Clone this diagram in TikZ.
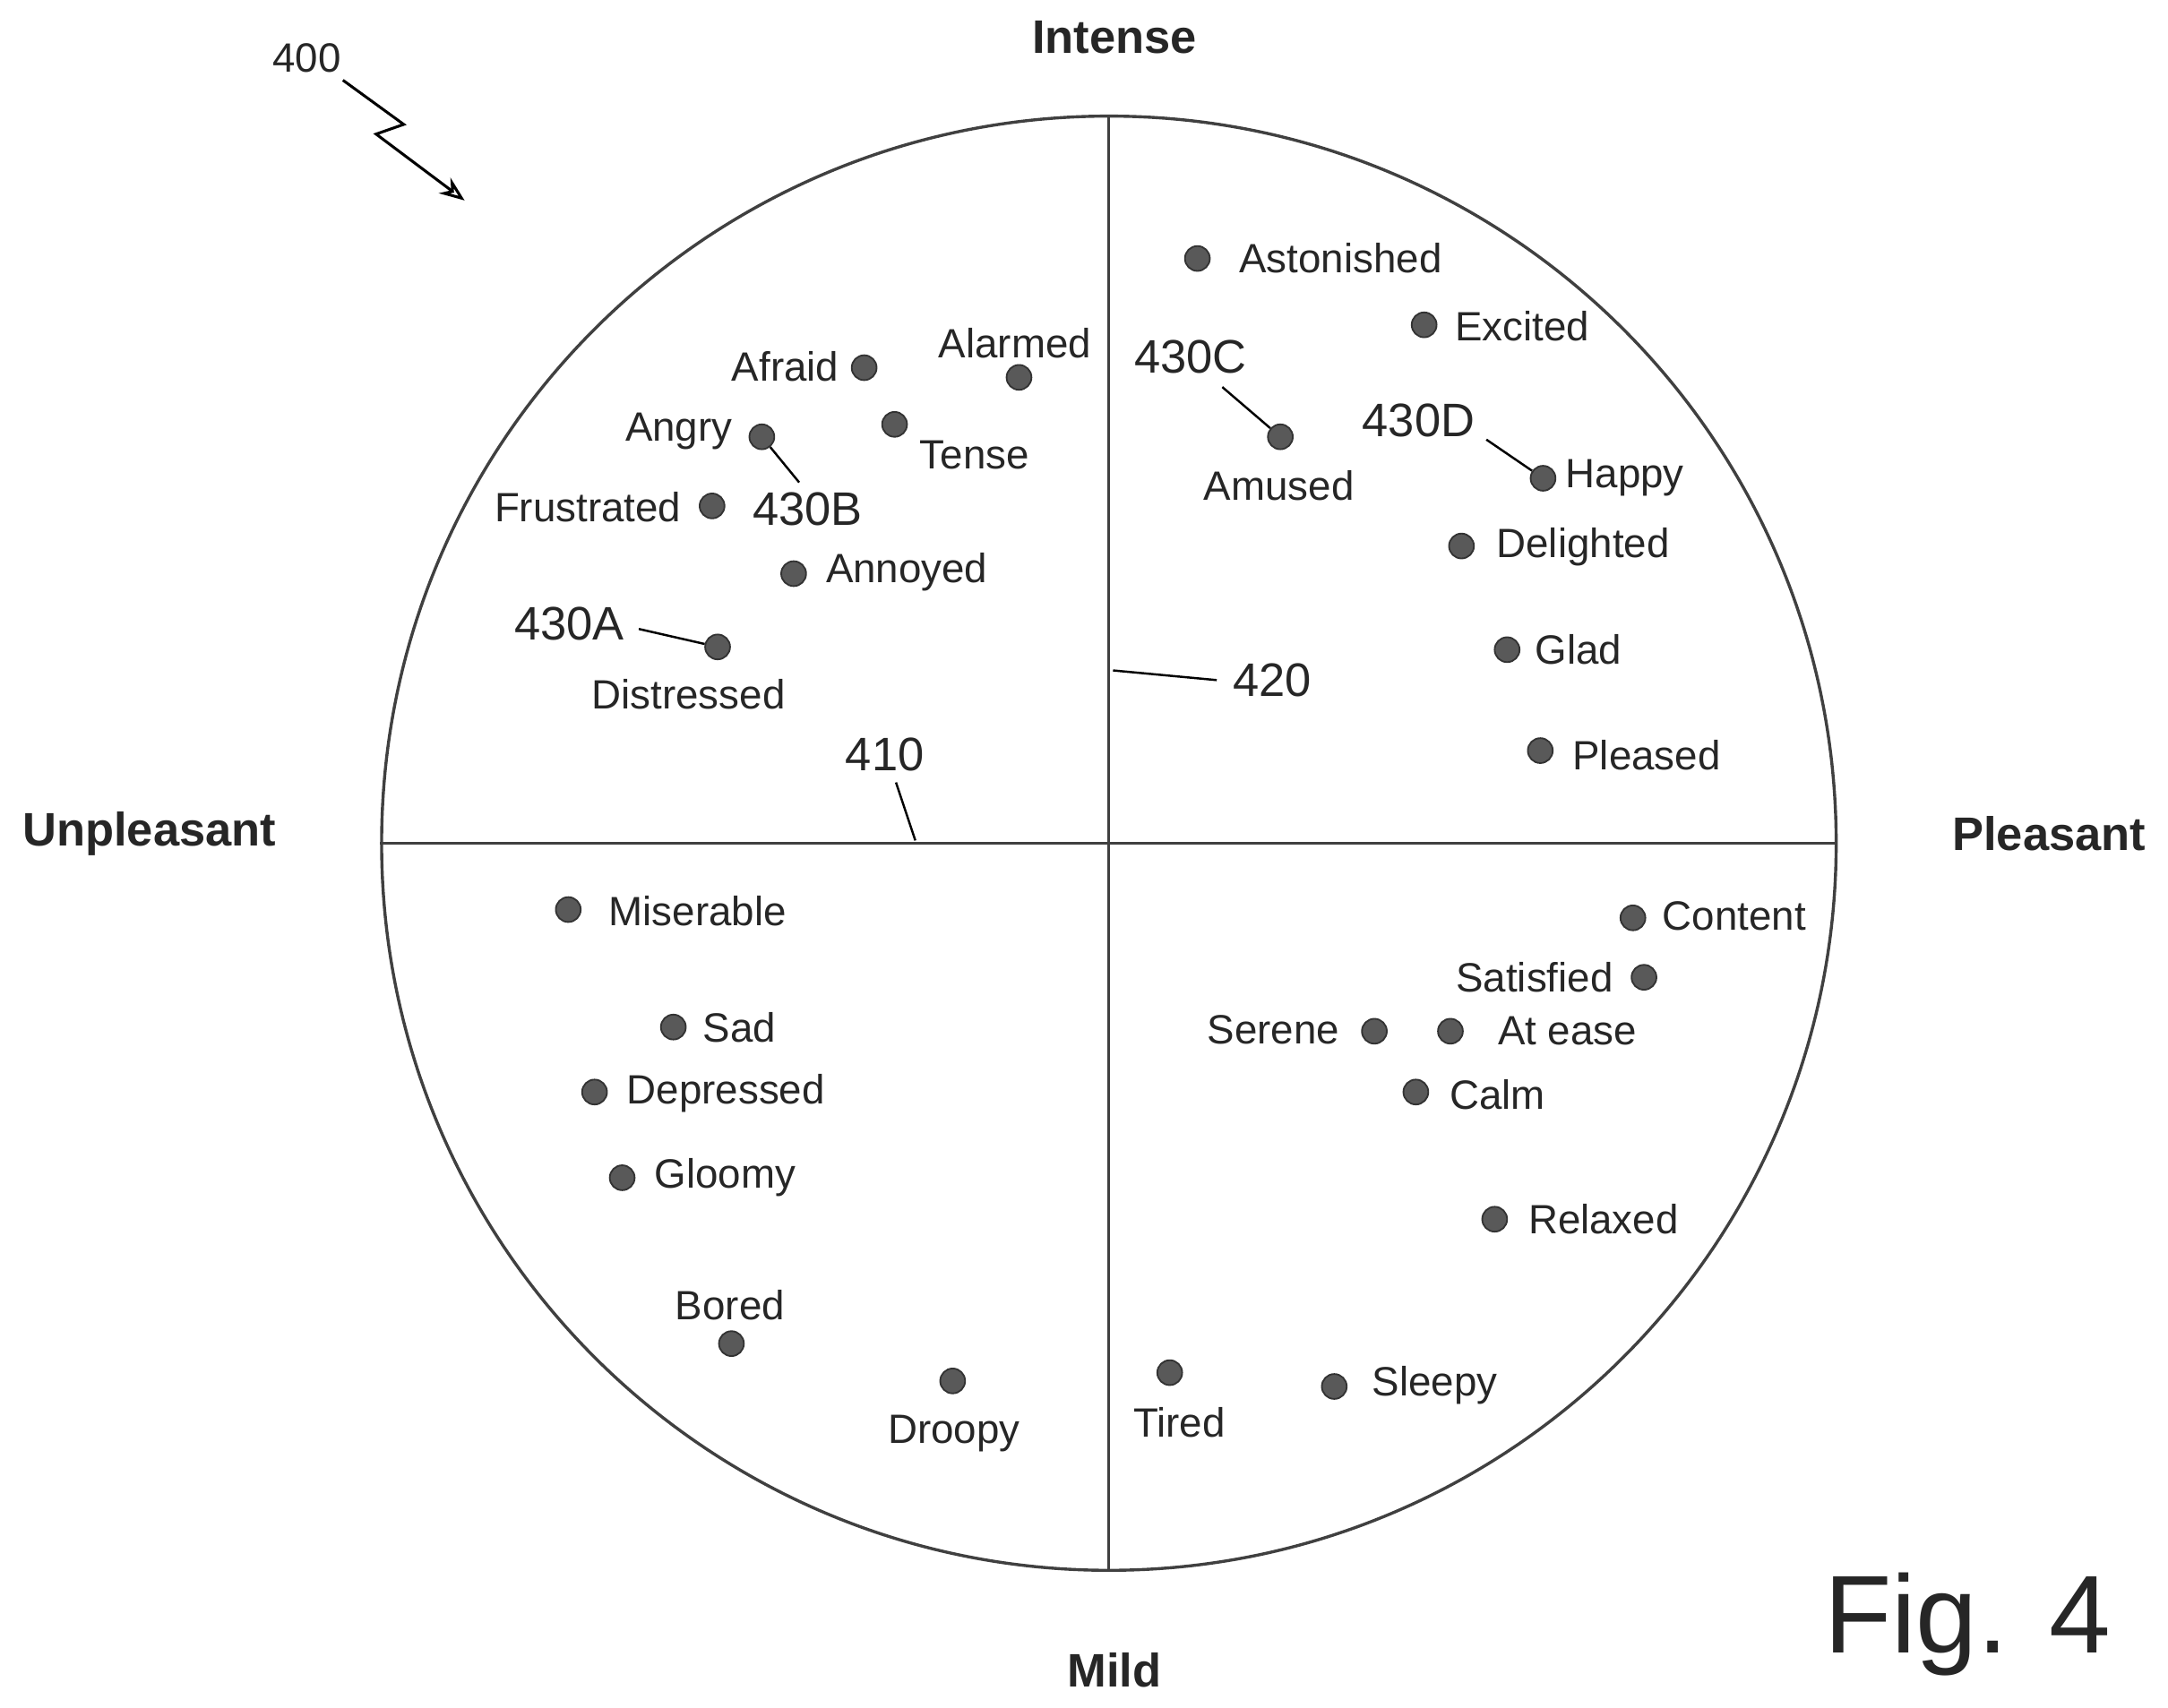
\documentclass[tikz,border=0pt]{standalone}
\usepackage{fontspec}
\setmainfont{Liberation Sans}
\usetikzlibrary{arrows.meta}
\begin{document}
\begin{tikzpicture}[x=0.5pt,y=-0.5pt,
 dot/.style={circle,fill=black!65,draw=black!80,line width=0.6pt,minimum size=9pt,inner sep=0pt},
 lab/.style={font=\fontsize{14.8}{16}\selectfont,text=black!85,inner sep=0pt},
 num/.style={font=\fontsize{17}{19}\selectfont,text=black!85,inner sep=0pt},
 ax/.style={font=\bfseries\fontsize{17}{19}\selectfont,text=black!85,inner sep=0pt},
 ln/.style={line width=1pt,draw=black!75}]
\useasboundingbox (0,0) rectangle (1568,1235);
\node[circle,draw=black!75,line width=1.1pt,minimum size=526pt,inner sep=0pt] (C) at (802,610) {};
\draw[ln] (C.north) -- (C.south);
\draw[ln] (C.west) -- (C.east);
\node[ax] (tI) at (806,27) {Intense};
\node[ax] (tM) at (806,1208) {Mild};
\node[ax] (tU) at (108,603) {Unpleasant};
\node[ax] (tP) at (1482,603) {Pleasant};
\node[font=\fontsize{40}{44}\selectfont,text=black!85,inner sep=0pt] (fig) at (1423,1175) {Fig. 4};
\node[lab] (t400) at (222,42) {400};
\coordinate (z1) at (248,58); \coordinate (z2) at (292,90); \coordinate (z3) at (272,97); \coordinate (z4) at (336,145);
\draw[line width=1pt,-{Stealth[open,length=9pt,width=7pt]}] (z1)--(z2)--(z3)--(z4);
% upper left
\node[dot] (dAlarmed) at (737,273) {}; \node[lab] at (734,248) {Alarmed};
\node[dot] (dAfraid) at (625,266) {}; \node[lab,anchor=east] at (607,265) {Afraid};
\node[dot] (dTense) at (647,307) {}; \node[lab,anchor=west] at (665,329) {Tense};
\node[dot] (dAngry) at (551,316) {}; \node[lab,anchor=east] at (530,312) {Angry};
\node[dot] (dFrus) at (515,366) {}; \node[lab,anchor=east] at (493,367) {Frustrated};
\node[num,anchor=west] (n430B) at (544,368) {430B};
\coordinate (g1) at (578,349); \draw[line width=0.8pt] (dAngry) -- (g1);
\node[dot] (dAnn) at (574,415) {}; \node[lab,anchor=west] at (597,414) {Annoyed};
\node[dot] (dDis) at (519,468) {}; \node[lab] at (498,502) {Distressed};
\node[num,anchor=east] (n430A) at (452,451) {430A};
\coordinate (a1) at (462,455); \draw[line width=0.8pt] (a1) -- (dDis);
\node[num] (n410) at (640,546) {410};
\coordinate (b1) at (648,566); \coordinate (b2) at (662,608); \draw[line width=0.8pt] (b1) -- (b2);
% upper right
\node[dot] (dAst) at (866,187) {}; \node[lab,anchor=west] at (896,187) {Astonished};
\node[dot] (dExc) at (1030,235) {}; \node[lab,anchor=west] at (1052,236) {Excited};
\node[dot] (dAmu) at (926,316) {}; \node[lab] at (925,351) {Amused};
\node[num] (n430C) at (861,258) {430C};
\coordinate (c1) at (884,280); \draw[line width=0.8pt] (c1) -- (dAmu);
\node[dot] (dHap) at (1116,346) {}; \node[lab,anchor=west] at (1132,346) {Happy};
\node[num] (n430D) at (1026,304) {430D};
\coordinate (e1) at (1075,318); \draw[line width=0.8pt] (e1) -- (dHap);
\node[dot] (dDel) at (1057,395) {}; \node[lab,anchor=west] at (1082,396) {Delighted};
\node[dot] (dGlad) at (1090,470) {}; \node[lab,anchor=west] at (1110,470) {Glad};
\node[dot] (dPl) at (1114,543) {}; \node[lab,anchor=west] at (1137,546) {Pleased};
\node[num] (n420) at (920,492) {420};
\coordinate (f1) at (805,485); \coordinate (f2) at (880,492); \draw[line width=0.8pt] (f1) -- (f2);
% lower left
\node[dot] (dMis) at (411,658) {}; \node[lab,anchor=west] at (440,659) {Miserable};
\node[dot] (dSad) at (487,743) {}; \node[lab,anchor=west] at (508,743) {Sad};
\node[dot] (dDep) at (430,790) {}; \node[lab,anchor=west] at (453,791) {Depressed};
\node[dot] (dGl) at (450,852) {}; \node[lab,anchor=west] at (473,852) {Gloomy};
\node[dot] (dBor) at (529,972) {}; \node[lab] at (528,944) {Bored};
\node[dot] (dDr) at (689,999) {}; \node[lab] at (690,1037) {Droopy};
% lower right
\node[dot] (dTir) at (846,993) {}; \node[lab] at (853,1029) {Tired};
\node[dot] (dSl) at (965,1003) {}; \node[lab,anchor=west] at (992,1002) {Sleepy};
\node[dot] (dCon) at (1181,664) {}; \node[lab,anchor=west] at (1202,663) {Content};
\node[dot] (dSat) at (1189,707) {}; \node[lab,anchor=east] at (1167,707) {Satisfied};
\node[dot] (dSer) at (994,746) {}; \node[lab,anchor=east] at (969,745) {Serene};
\node[dot] (dAt) at (1049,746) {}; \node[lab,anchor=west] at (1083,746) {At ease};
\node[dot] (dCalm) at (1024,790) {}; \node[lab,anchor=west] at (1048,792) {Calm};
\node[dot] (dRel) at (1081,882) {}; \node[lab,anchor=west] at (1105,882) {Relaxed};
\end{tikzpicture}
\end{document}
